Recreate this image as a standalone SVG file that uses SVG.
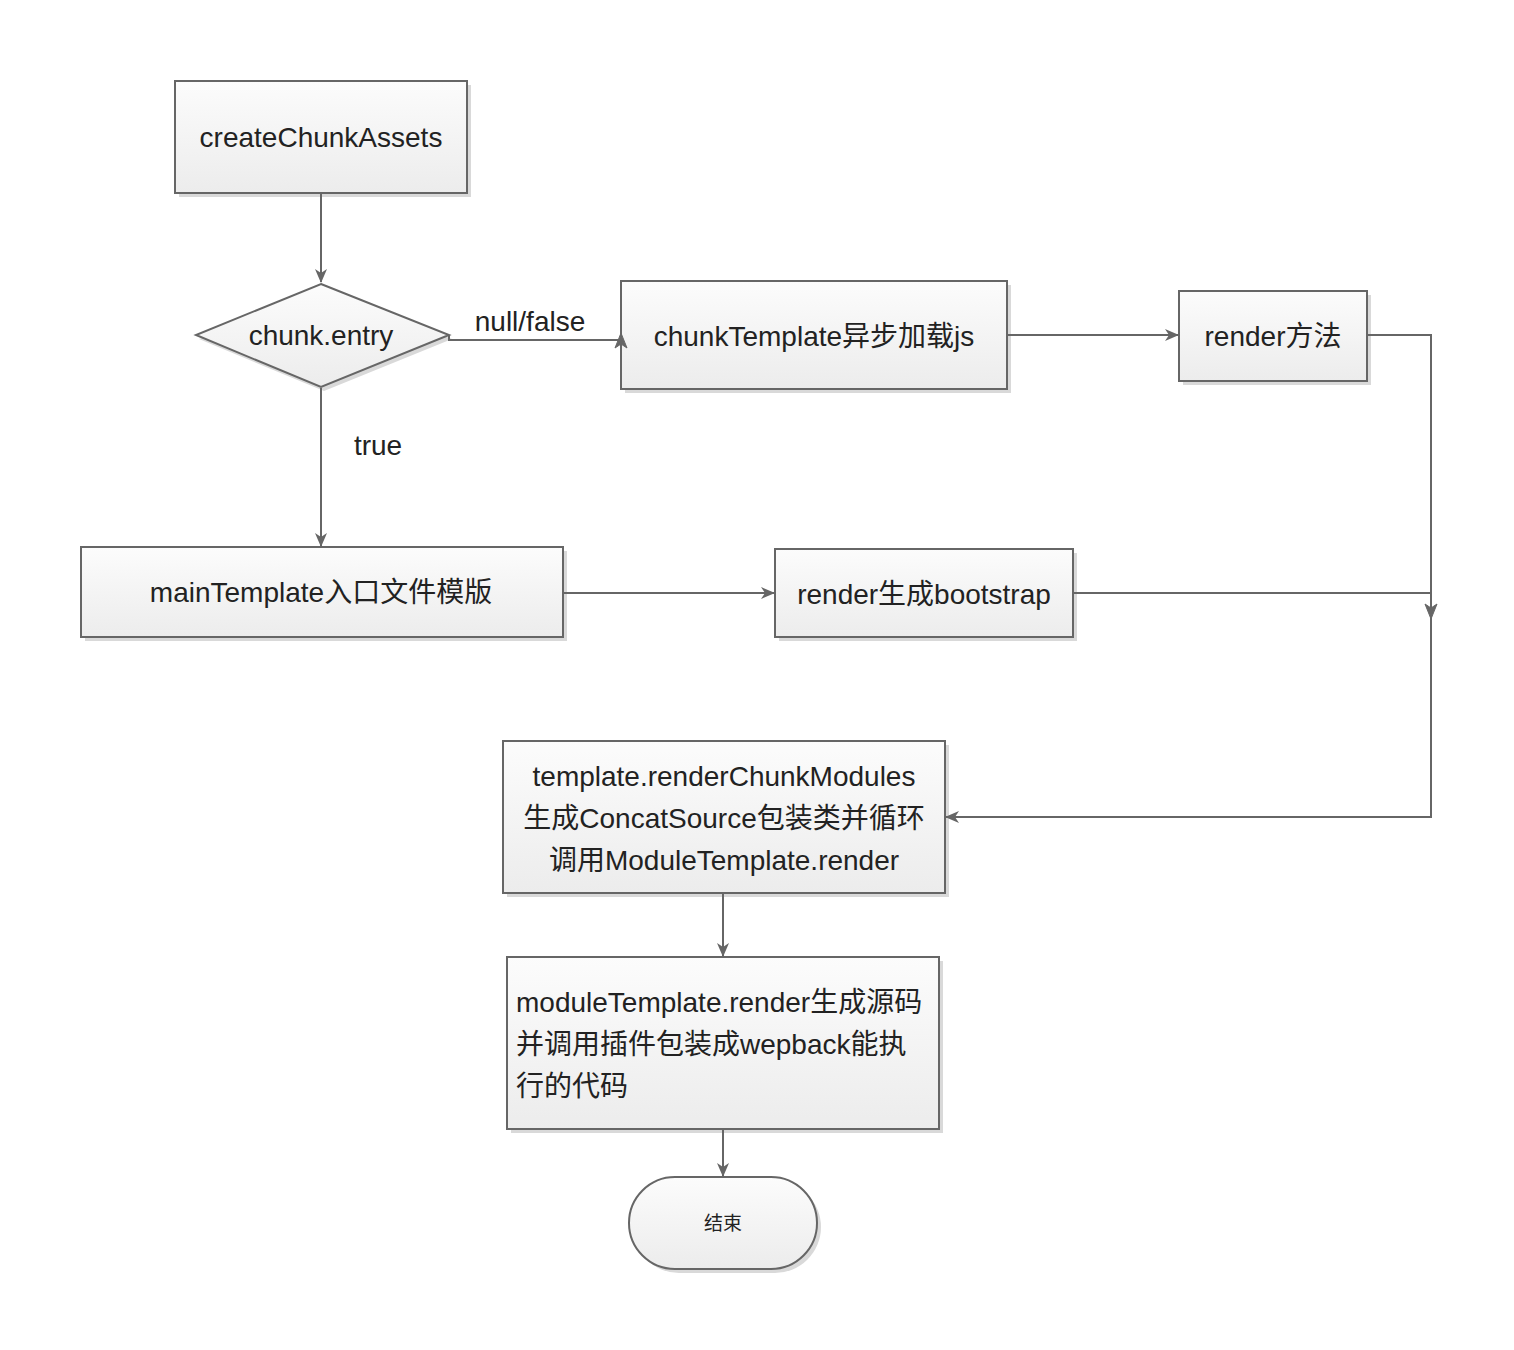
<svg xmlns="http://www.w3.org/2000/svg" width="1514" height="1350" viewBox="0 0 1514 1350">
<style>
.box{fill:url(#g);stroke:#666;stroke-width:2}
.sh{fill:#d9d9d9;stroke:none}
.t{font-family:"Liberation Sans","Noto Sans CJK SC",sans-serif;font-size:28px;fill:#222;text-anchor:middle;dominant-baseline:central}
.l{text-anchor:start}
.c{fill:none;stroke:#666;stroke-width:2}
.ah{fill:#666;stroke:#666;stroke-width:1}
</style>
<defs>
<linearGradient id="g" x1="0" y1="0" x2="0" y2="1">
<stop offset="0" stop-color="#fcfcfc"/>
<stop offset="1" stop-color="#ececec"/>
</linearGradient>
<marker id="a" viewBox="0 0 14 12" refX="13" refY="6" markerWidth="14" markerHeight="12" markerUnits="userSpaceOnUse" orient="auto">
<path d="M0,0 L14,6 L0,12 L4,6 Z" fill="#666"/>
</marker>
</defs>
<rect width="1514" height="1350" fill="#fff"/>
<g id="createChunkAssets">
<rect class="sh" x="179" y="85" width="292" height="112"/>
<rect class="box" x="175" y="81" width="292" height="112"/>
<text class="t" x="321" y="137">createChunkAssets</text>
</g>
<g id="chunkEntry">
<polygon class="sh" points="324,288 452,339 324,391 199,339"/>
<polygon class="box" points="321,284 449,335 321,387 196,335"/>
<text class="t" x="321" y="335">chunk.entry</text>
</g>
<g id="chunkTemplate">
<rect class="sh" x="625" y="285" width="386" height="108"/>
<rect class="box" x="621" y="281" width="386" height="108"/>
<text class="t" x="814" y="336">chunkTemplate异步加载js</text>
</g>
<g id="renderMethod">
<rect class="sh" x="1183" y="295" width="188" height="90"/>
<rect class="box" x="1179" y="291" width="188" height="90"/>
<text class="t" x="1273" y="336">render方法</text>
</g>
<g id="mainTemplate">
<rect class="sh" x="85" y="551" width="482" height="90"/>
<rect class="box" x="81" y="547" width="482" height="90"/>
<text class="t" x="321" y="592">mainTemplate入口文件模版</text>
</g>
<g id="renderBootstrap">
<rect class="sh" x="779" y="553" width="298" height="88"/>
<rect class="box" x="775" y="549" width="298" height="88"/>
<text class="t" x="924" y="594">render生成bootstrap</text>
</g>
<g id="renderChunkModules">
<rect class="sh" x="507" y="745" width="442" height="152"/>
<rect class="box" x="503" y="741" width="442" height="152"/>
<text class="t" x="724" y="776">template.renderChunkModules</text>
<text class="t" x="724" y="818">生成ConcatSource包装类并循环</text>
<text class="t" x="724" y="860">调用ModuleTemplate.render</text>
</g>
<g id="moduleTemplateRender">
<rect class="sh" x="511" y="961" width="432" height="172"/>
<rect class="box" x="507" y="957" width="432" height="172"/>
<text class="t l" x="516" y="1002">moduleTemplate.render生成源码</text>
<text class="t l" x="516" y="1044">并调用插件包装成wepback能执</text>
<text class="t l" x="516" y="1086">行的代码</text>
</g>
<g id="end">
<rect class="sh" x="633" y="1181" width="188" height="92" rx="46"/>
<rect class="box" x="629" y="1177" width="188" height="92" rx="46"/>
<text class="t" x="723" y="1223" style="font-size:19px">结束</text>
</g>
<g id="connectors">
<path class="c" d="M321,194 V282" marker-end="url(#a)"/>
<path class="c" d="M449,335 V340 H621"/>
<path d="M621,333 L627,348 L621,344 L615,348 Z" class="ah"/>
<path class="c" d="M321,388 V546" marker-end="url(#a)"/>
<path class="c" d="M1008,335 H1178" marker-end="url(#a)"/>
<path class="c" d="M1368,335 H1431 V817 H946" marker-end="url(#a)"/>
<path d="M1431,619 L1425,604 L1431,608 L1437,604 Z" class="ah"/>
<path class="c" d="M564,593 H774" marker-end="url(#a)"/>
<path class="c" d="M1074,593 H1431"/>
<path class="c" d="M723,894 V956" marker-end="url(#a)"/>
<path class="c" d="M723,1130 V1176" marker-end="url(#a)"/>
<text class="t" x="530" y="321">null/false</text>
<text class="t" x="378" y="445">true</text>
</g>
</svg>
